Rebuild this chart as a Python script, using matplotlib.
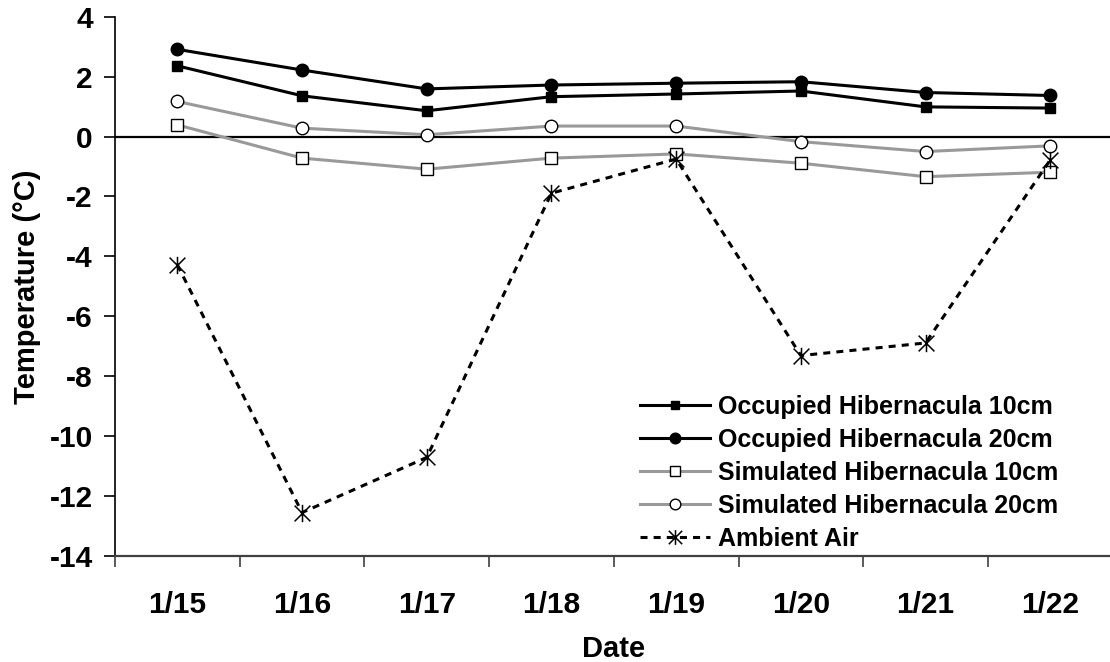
import matplotlib
matplotlib.use("Agg")
import matplotlib.pyplot as plt
from matplotlib.path import Path

plt.rcParams['font.family'] = ['Liberation Sans', 'DejaVu Sans']
plt.rcParams['font.weight'] = 'bold'

dates = ["1/15", "1/16", "1/17", "1/18", "1/19", "1/20", "1/21", "1/22"]
occ10 = [2.36, 1.36, 0.86, 1.33, 1.42, 1.52, 0.99, 0.95]
occ20 = [2.91, 2.22, 1.59, 1.72, 1.78, 1.83, 1.47, 1.37]
sim10 = [0.39, -0.72, -1.09, -0.72, -0.58, -0.89, -1.34, -1.19]
sim20 = [1.17, 0.28, 0.06, 0.35, 0.35, -0.17, -0.50, -0.31]
ambient = [-4.28, -12.55, -10.71, -1.89, -0.75, -7.31, -6.89, -0.78]
yticks = [4, 2, 0, -2, -4, -6, -8, -10, -12, -14]

W, H = 1110, 662
fig = plt.figure(figsize=(W / 100, H / 100), dpi=100)
ax = fig.add_axes([115 / W, 1 - 556 / H, (1112.6 - 115) / W, (556 - 16.7) / H])

x = list(range(len(dates)))
gray = '#999999'

star = Path([(-1, -1), (1, 1), (-1, 1), (1, -1), (0, -1.1), (0, 1.1)],
            [Path.MOVETO, Path.LINETO, Path.MOVETO, Path.LINETO, Path.MOVETO, Path.LINETO])

ax.axhline(0, color='black', lw=1.6, zorder=1)

ax.plot(x, occ10, color='black', lw=2.2, marker='s', ms=7.5, mfc='black', mec='black',
        label='Occupied Hibernacula 10cm', zorder=4)
ax.plot(x, occ20, color='black', lw=2.2, marker='o', ms=9, mfc='black', mec='black',
        label='Occupied Hibernacula 20cm', zorder=4)
ax.plot(x, sim10, color=gray, lw=2.2, marker='s', ms=8.5, mfc='white', mec='black', mew=1.0,
        label='Simulated Hibernacula 10cm', zorder=3)
ax.plot(x, sim20, color=gray, lw=2.2, marker='o', ms=9, mfc='white', mec='black', mew=1.0,
        label='Simulated Hibernacula 20cm', zorder=3)
ax.plot(x, ambient, color='black', lw=2.2, linestyle=(0, (2.3, 2.0)), marker=star, ms=12.5,
        mec='black', mew=1.1, label='Ambient Air', zorder=5)

ax.set_xlim(-0.5, len(dates) - 0.5)
ax.set_ylim(-14, 4)
ax.set_yticks(yticks)
ax.set_yticklabels([str(v) for v in yticks])
ax.set_xticks([i - 0.5 for i in range(len(dates) + 1)])
ax.set_xticklabels([''] * (len(dates) + 1))
ax.set_xticks(x, minor=True)
ax.set_xticklabels(dates, minor=True)
ax.tick_params(axis='x', which='minor', length=0, pad=25, labelsize=21.5)
ax.tick_params(axis='x', which='major', length=8, width=1.2, color='#404040', direction='out')
ax.tick_params(axis='y', length=8, width=1.2, direction='out', labelsize=21.5, pad=8)

for s in ['top', 'right']:
    ax.spines[s].set_visible(False)
ax.spines['left'].set_linewidth(1.2)
ax.spines['bottom'].set_linewidth(1.6)
ax.spines['bottom'].set_color('#404040')

ax.set_xlabel('Date', fontsize=21, fontweight='bold', labelpad=12)
ax.set_ylabel('Temperature (°C)', fontsize=21, fontweight='bold', labelpad=6)

leg = ax.legend(loc='upper left', bbox_to_anchor=(640 / W, 1 - 395 / H),
                bbox_transform=fig.transFigure, frameon=False, fontsize=18,
                handlelength=2.8, handletextpad=0.3, labelspacing=0.36, borderpad=0,
                borderaxespad=0, markerscale=0.85)
for t in leg.get_texts():
    t.set_fontweight('bold')

fig.savefig('out.png', dpi=100)
